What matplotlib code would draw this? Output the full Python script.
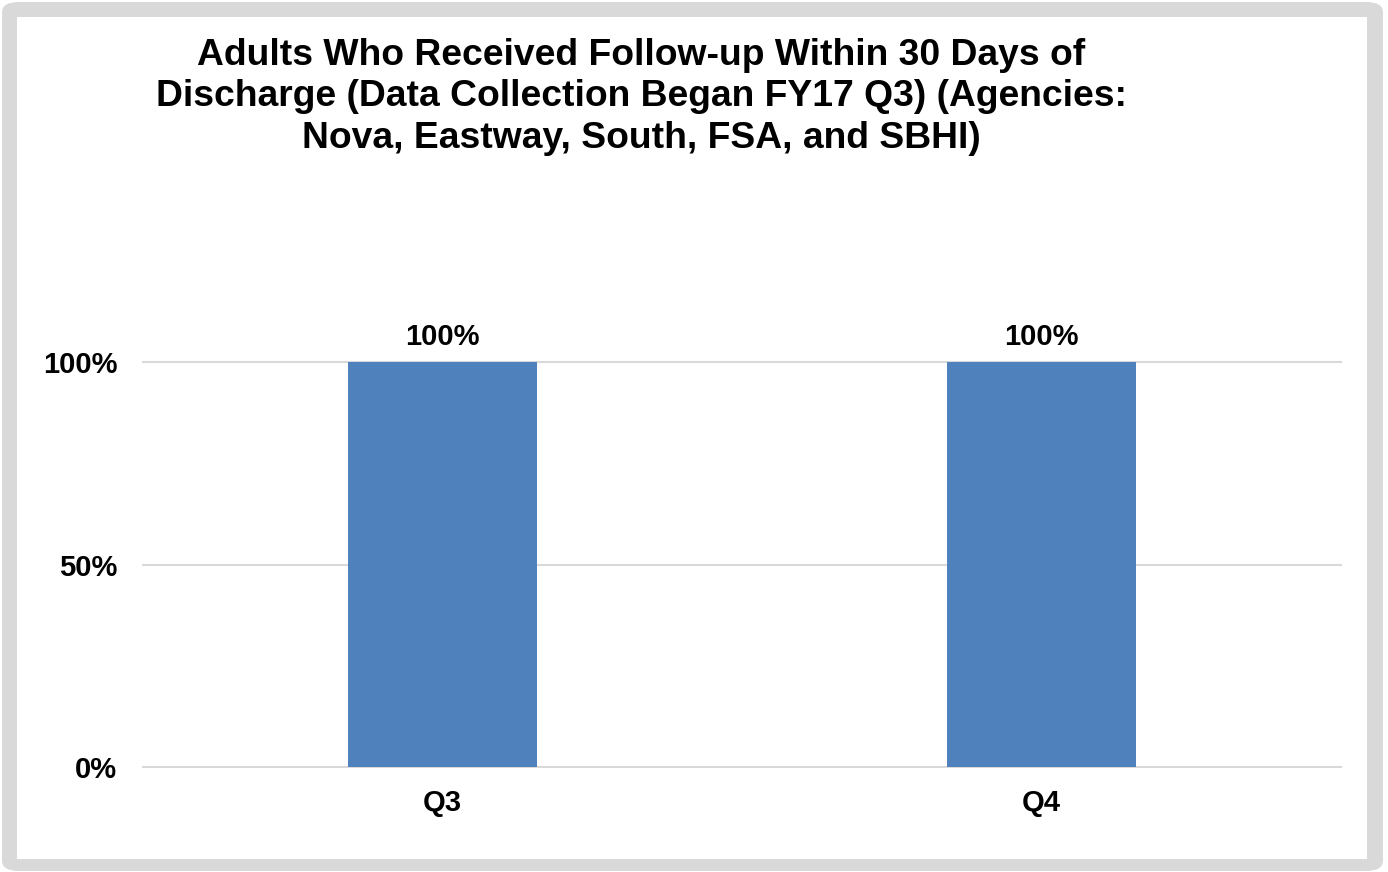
import matplotlib
matplotlib.use("Agg")
import matplotlib.pyplot as plt
from matplotlib.patches import FancyBboxPatch, Rectangle
from matplotlib.ticker import FuncFormatter

categories = ["Q3", "Q4"]
values = [1.00, 1.00]
yticks = [0, 0.5, 1.0]
title = ("Adults Who Received Follow-up Within 30 Days of\n"
         "Discharge (Data Collection Began FY17 Q3) (Agencies:\n"
         "Nova, Eastway, South, FSA, and SBHI)")

plt.rcParams['font.family'] = ['Liberation Sans', 'DejaVu Sans']
plt.rcParams['font.weight'] = 'bold'

W, H = 1388, 872
fig = plt.figure(figsize=(W/100, H/100), dpi=100)
fig.patch.set_facecolor('white')

# frame
frame = FancyBboxPatch((2/W, 1 - 871/H), (1383-2)/W, (871-2)/H,
                       boxstyle="round,pad=0,rounding_size=0.012",
                       transform=fig.transFigure, facecolor='#d9d9d9',
                       edgecolor='none', zorder=-2)
fig.patches.append(frame)
inner = Rectangle((17/W, 1 - 859/H), (1367-17)/W, (859-17)/H,
                  transform=fig.transFigure, facecolor='white',
                  edgecolor='none', zorder=-1)
fig.patches.append(inner)

ax = fig.add_axes([143/W, 1 - 767/H, (1341-143)/W, (767-362)/H])
ax.set_zorder(1)
ax.set_facecolor('none')
x = list(range(len(categories)))
bars = ax.bar(x, values, width=0.314, color='#4F81BD', zorder=3)
ax.set_xlim(-0.5, len(categories) - 0.5)
ax.set_ylim(0, 1.0)
ax.set_yticks(yticks)
ax.yaxis.set_major_formatter(FuncFormatter(lambda v, p: f"{v*100:.0f}%"))
ax.set_xticks(x)
ax.set_xticklabels(categories)
ax.tick_params(axis='both', length=0, labelsize=21)
ax.tick_params(axis='y', pad=18.5)
ax.tick_params(axis='x', pad=16)
for s in ax.spines.values():
    s.set_visible(False)
for t in yticks:
    ax.axhline(t, color='#d9d9d9', lw=1.5, zorder=1, clip_on=False)

for xi, v in zip(x, values):
    ax.annotate(f"{v*100:.0f}%", (xi, v), xytext=(0, 8), textcoords='offset points',
                ha='center', va='bottom', fontsize=21, fontweight='bold',
                annotation_clip=False)

fig.text(641/W, 1 - 97/H, title, ha='center', va='center', fontsize=26.8,
         fontweight='bold', linespacing=1.245)

fig.savefig("out.png", dpi=100)
